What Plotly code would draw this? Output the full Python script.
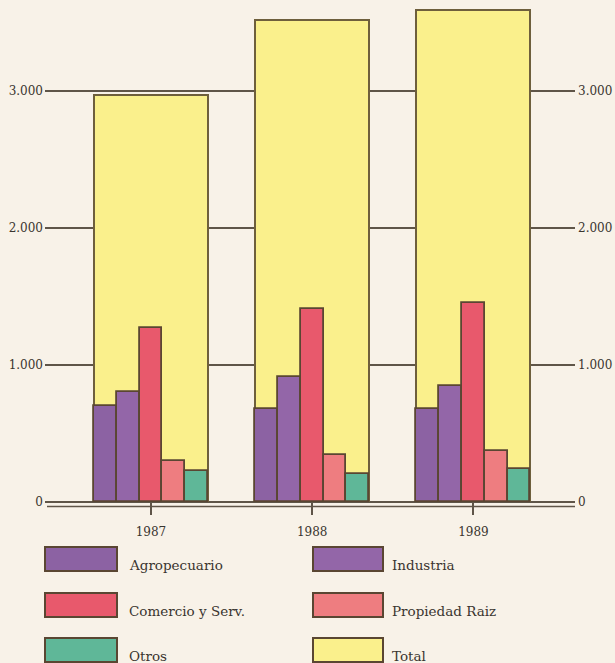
import plotly.graph_objects as go

years = [1987, 1988, 1989]
series_names = ["Agropecuario", "Industria", "Comercio y Serv.", "Propiedad Raiz", "Otros"]
agropecuario = [700, 680, 680]
industria = [800, 910, 850]
comercio = [1270, 1410, 1450]
propiedad = [300, 345, 370]
otros = [225, 205, 240]
total = [2970, 3520, 3590]
total_name = "Total"

tick_vals = [0, 1000, 2000, 3000]
tick_text = ["0", "1.000", "2.000", "3.000"]

colors = ["#8c62a3", "#9366a8", "#e8596c", "#ee7d80", "#5fb798"]
total_color = "#faf08c"
edge = "#5a4632"
bg = "#f8f2e8"
txt = "#3a352f"
font_family = "DejaVu Serif"

W = 0.707
sub_w = W / 5

fig = go.Figure()
fig.add_trace(go.Bar(x=years, y=total, name=total_name, width=W, offset=-W / 2,
                     marker=dict(color=total_color, line=dict(color="#6e5f3c", width=2)),
                     showlegend=False))
for i, (nm, vals) in enumerate(zip(series_names, [agropecuario, industria, comercio, propiedad, otros])):
    fig.add_trace(go.Bar(x=years, y=vals, name=nm, width=sub_w, offset=-W / 2 + i * sub_w,
                         marker=dict(color=colors[i], line=dict(color=edge, width=1.8)),
                         showlegend=False))

L, R, T, B = 45, 40, 2, 161
FW, FH = 615, 663
PW, PH = FW - L - R, FH - T - B

def px_x(p):
    return (p - L) / PW

def px_y(p):
    return (FH - B - p) / PH

shapes = []
annotations = []
# second line of the double base line
shapes.append(dict(type="line", xref="paper", yref="paper", x0=px_x(47), x1=px_x(575),
                   y0=px_y(506.5), y1=px_y(506.5), line=dict(color="#5f5548", width=1.5)))

legend_items = series_names + [total_name]
legend_colors = colors + [total_color]
col_sw = [(45, 117), (313, 383)]
col_tx = [127, 390]
row_top = [547, 593, 638]
for k, (nm, c) in enumerate(zip(legend_items, legend_colors)):
    r, cc = divmod(k, 2)
    x0, x1 = col_sw[cc]
    y0 = row_top[r]
    shapes.append(dict(type="rect", xref="paper", yref="paper",
                       x0=px_x(x0), x1=px_x(x1), y0=px_y(y0), y1=px_y(y0 + 24),
                       fillcolor=c, line=dict(color=edge, width=2)))
    annotations.append(dict(text=nm, xref="paper", yref="paper", x=px_x(col_tx[cc]),
                            y=px_y(y0 + 18), xanchor="left", yanchor="middle", showarrow=False,
                            font=dict(family=font_family, size=13.5, color=txt)))

fig.update_layout(
    width=FW, height=FH,
    margin=dict(l=L, r=R, t=T, b=B),
    barmode="overlay",
    bargap=0,
    paper_bgcolor=bg, plot_bgcolor=bg,
    font=dict(family=font_family, size=12, color=txt),
    showlegend=False,
    shapes=shapes,
    annotations=annotations,
    xaxis=dict(range=[1986.343, 1989.63], tickvals=years, ticktext=[str(y) for y in years],
               showgrid=False, zeroline=False, showline=False,
               ticks="outside", ticklen=12, tickwidth=1.5, tickcolor="#5f5548",
               ticklabelstandoff=7,
               tickfont=dict(family=font_family, size=12, color=txt)),
    yaxis=dict(range=[0, 3650], tickvals=tick_vals, ticktext=tick_text,
               showgrid=True, gridcolor="#5f5548", gridwidth=1.5,
               zeroline=True, zerolinecolor="#5f5548", zerolinewidth=1.5,
               showline=False, ticks="", ticklabelstandoff=1,
               tickfont=dict(family=font_family, size=12, color=txt)),
    yaxis2=dict(range=[0, 3650], tickvals=tick_vals, ticktext=tick_text,
                overlaying="y", side="right", showgrid=False, zeroline=False,
                showline=False, ticks="", ticklabelstandoff=2,
                tickfont=dict(family=font_family, size=12, color=txt)),
)
fig.add_trace(go.Scatter(x=years, y=total, yaxis="y2", mode="markers",
                         marker=dict(opacity=0), hoverinfo="skip", showlegend=False))

fig.write_html("out.html", config={"displayModeBar": False},
               post_script="document.body.style.margin='0';document.body.style.overflow='hidden';"
                           "document.documentElement.style.overflow='hidden';")
